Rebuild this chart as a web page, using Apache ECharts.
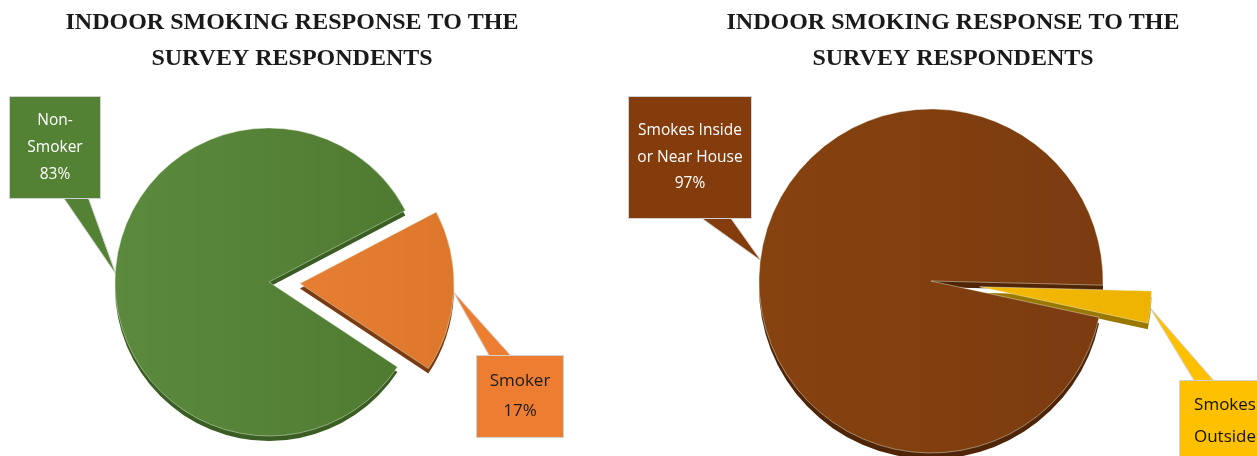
<!DOCTYPE html>
<html>
<head>
<meta charset="utf-8">
<script src="https://cdn.jsdelivr.net/npm/echarts@6/dist/echarts.min.js"></script>
<style>
  html, body { margin: 0; padding: 0; background: #ffffff; }
  #chart { width: 1257px; height: 456px; }
</style>
</head>
<body>
<div id="chart"></div>
<script>
// ---- data ----
const titleLines = ['INDOOR SMOKING RESPONSE TO THE', 'SURVEY RESPONDENTS'];
const smokerCategories = ['Non-Smoker', 'Smoker'];
const smokerShares = [83, 17];
const placeCategories = ['Smokes Inside or Near House', 'Smokes Outside'];
const placeShares = [97, 3];

// ---- styling ----
const smokerStyle = {
  top: [['#5b8a3e', '#4f7b31'], ['#e67f33', '#dc772c']],
  side: ['#3a5d23', '#7a3a12'],
  box: ['#548235', '#ed7d31'],
  text: ['#ffffff', '#1c1c1c'],
  font: [15.5, 17],
  lineHeight: [27, 30],
  // callout box: left, top, width, height, pointer base span, edge the pointer leaves from
  boxes: [
    { x: 10, y: 97, w: 90, h: 101, base: [53, 78], edge: 'bottom', wrap: 7 },
    { x: 477, y: 356, w: 86, h: 81, base: [13, 35], edge: 'top', wrap: 7 }
  ]
};
const placeStyle = {
  top: [['#86420f', '#7c3c10'], ['#f4b906', '#eeb200']],
  side: ['#4f2407', '#9a7800'],
  box: ['#843c0c', '#ffc000'],
  text: ['#ffffff', '#111111'],
  font: [15.5, 17],
  lineHeight: [26.5, 32],
  boxes: [
    { x: 629, y: 97, w: 122, h: 121, base: [71, 101], edge: 'bottom', wrap: 13 },
    { x: 1180, y: 381, w: 90, h: 112, base: [15, 35], edge: 'top', wrap: 7 }
  ]
};

// break a name into lines no longer than maxChars, splitting at spaces or after hyphens
function wrapName(name, maxChars) {
  const tokens = name.split(/(?<=-)|\s+/);
  const lines = [];
  let cur = '';
  tokens.forEach(t => {
    const glue = cur && !cur.endsWith('-') ? ' ' : '';
    if (cur && (cur + glue + t).length > maxChars) {
      lines.push(cur);
      cur = t;
    } else {
      cur = cur + glue + t;
    }
  });
  if (cur) lines.push(cur);
  return lines.join('\n');
}

function gradient(pair) {
  return new echarts.graphic.LinearGradient(0, 0, 1, 0, [
    { offset: 0, color: pair[0] },
    { offset: 1, color: pair[1] }
  ]);
}

const HIDDEN = { color: 'rgba(0,0,0,0)', borderWidth: 0 };

// One pie drawn as a raised disc: a darker copy lowered by `depth` forms the rim,
// and the pulled-out slice is a second pie whose centre moves along its mid angle.
function raisedPie(names, values, style, center, radius, startAngle, pulled, pullOffset, depth) {
  const total = values.reduce((a, b) => a + b, 0);
  const before = values.slice(0, pulled).reduce((a, b) => a + b, 0);
  const midDeg = startAngle - 360 * (before + values[pulled] / 2) / total;
  const mid = midDeg * Math.PI / 180;
  const pulledCenter = [center[0] + Math.cos(mid) * pullOffset, center[1] - Math.sin(mid) * pullOffset];

  function layer(c, showPulled, isTop) {
    return {
      type: 'pie',
      center: c,
      radius: radius,
      startAngle: startAngle,
      clockwise: true,
      avoidLabelOverlap: false,
      silent: true,
      z: isTop ? 3 : 2,
      labelLine: { show: false },
      labelLayout: function (params) {
        const b = style.boxes[params.dataIndex];
        return { x: b.x + b.w / 2, y: b.y + b.h / 2, align: 'center', verticalAlign: 'middle' };
      },
      data: names.map((n, i) => {
        const visible = (i === pulled) === showPulled;
        const item = { name: n, value: values[i] };
        if (!visible) {
          item.itemStyle = HIDDEN;
          item.label = { show: false };
          return item;
        }
        if (!isTop) {
          item.itemStyle = { color: style.side[i] };
          item.label = { show: false };
          return item;
        }
        const b = style.boxes[i];
        const lines = wrapName(n, b.wrap).split('\n').length + 1;
        const pad = (b.h - lines * style.lineHeight[i]) / 2;
        item.itemStyle = {
          color: gradient(style.top[i]),
          borderColor: 'rgba(235,245,225,0.55)',
          borderWidth: 0.8
        };
        item.label = {
          show: true,
          position: 'outside',
          formatter: p => wrapName(p.name, b.wrap) + '\n' + Math.round(p.percent) + '%',
          fontFamily: 'Open Sans',
          fontSize: style.font[i],
          lineHeight: style.lineHeight[i],
          color: style.text[i],
          backgroundColor: style.box[i],
          borderColor: '#d2d2d2',
          borderWidth: 1,
          width: b.w,
          padding: [pad + 2, 0, pad - 2, 0],
          align: 'center'
        };
        return item;
      })
    };
  }

  return [
    layer([center[0], center[1] + depth], false, false),
    layer([pulledCenter[0], pulledCenter[1] + depth], true, false),
    layer(center, false, true),
    layer(pulledCenter, true, true)
  ];
}

const titleFont = {
  fontFamily: 'Liberation Serif',
  fontWeight: 'bold',
  fontSize: 24,
  lineHeight: 36,
  color: '#1a1a1a'
};

const chart = echarts.init(document.getElementById('chart'), null, { renderer: 'canvas' });

const leftPie = raisedPie(smokerCategories, smokerShares, smokerStyle, [269, 282], 154, 326.5, 1, 31, 5);
const rightPie = raisedPie(placeCategories, placeShares, placeStyle, [931, 281], 172, 347.8, 1, 49, 6);

chart.setOption({
  backgroundColor: '#ffffff',
  animation: false,
  title: [
    { text: titleLines.join('\n'), left: 292, top: 5, padding: 0, textAlign: 'center', textStyle: titleFont },
    { text: titleLines.join('\n'), left: 953, top: 5, padding: 0, textAlign: 'center', textStyle: titleFont }
  ],
  series: leftPie.concat(rightPie)
});

// speech-bubble pointers from each callout box to its slice rim, using the pie layout
const callouts = [
  { seriesIndex: 2, item: 0, style: smokerStyle },
  { seriesIndex: 3, item: 1, style: smokerStyle },
  { seriesIndex: 6, item: 0, style: placeStyle },
  { seriesIndex: 7, item: 1, style: placeStyle }
];
function drawPointers() {
  const model = chart.getModel();
  const shapes = callouts.map(c => {
    const data = model.getSeriesByIndex(c.seriesIndex).getData();
    const lay = data.getItemLayout(c.item);
    const mid = (lay.startAngle + lay.endAngle) / 2;
    const reach = lay.r * 0.995;
    const tip = [lay.cx + Math.cos(mid) * reach, lay.cy + Math.sin(mid) * reach];
    const b = c.style.boxes[c.item];
    const edgeY = b.edge === 'bottom' ? b.y + b.h - 1 : b.y + 1;
    return {
      type: 'polygon',
      silent: true,
      z: 1,
      shape: { points: [[b.x + b.base[0], edgeY], tip, [b.x + b.base[1], edgeY]] },
      style: { fill: c.style.box[c.item], stroke: '#d2d2d2', lineWidth: 1 }
    };
  });
  chart.setOption({ graphic: { elements: shapes } });
}
drawPointers();
</script>
</body>
</html>
